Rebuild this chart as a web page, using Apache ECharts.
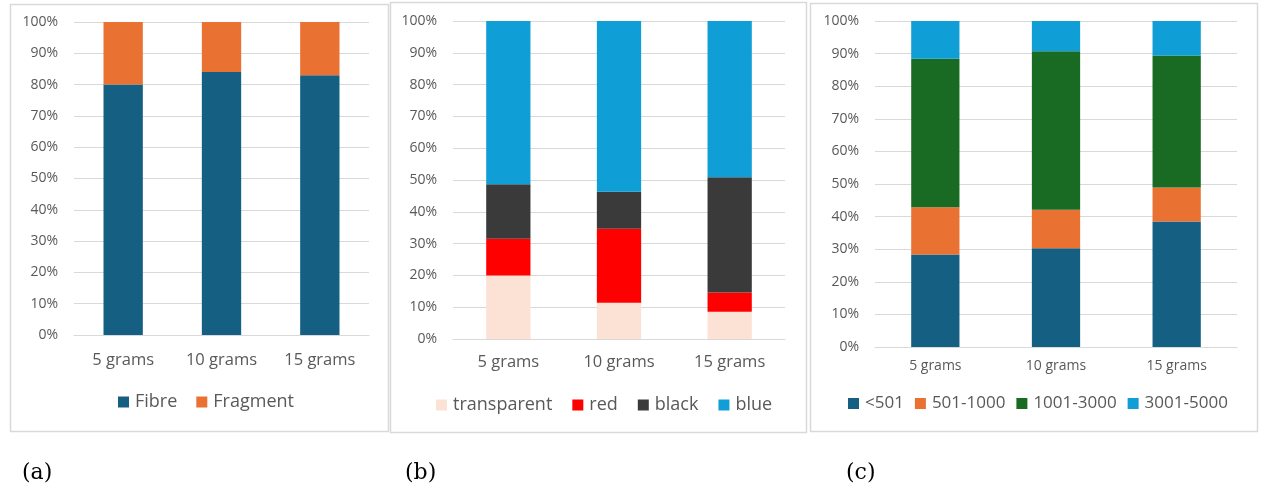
<!DOCTYPE html>
<html>
<head>
<meta charset="utf-8">
<script src="https://cdn.jsdelivr.net/npm/echarts@6/dist/echarts.min.js"></script>
<style>
html,body{margin:0;padding:0;background:#fff;}
#c{width:1282px;height:488px;}
</style>
</head>
<body>
<div id="c"></div>
<script>
var categories = ['5 grams', '10 grams', '15 grams'];
var yTicks = [0, 10, 20, 30, 40, 50, 60, 70, 80, 90, 100];

// (a) shape
var fibre = [80, 84, 83];
var fragment = [20, 16, 17];

// (b) colour
var transparentC = [20, 11.4, 8.6];
var redC = [11.5, 23.3, 6.0];
var blackC = [17.2, 11.6, 36.3];
var blueC = [51.3, 53.7, 49.1];

// (c) size
var s501 = [28.4, 30.3, 38.5];
var s1000 = [14.5, 11.8, 10.4];
var s3000 = [45.5, 48.6, 40.5];
var s5000 = [11.6, 9.3, 10.6];

var panelLabels = ['(a)', '(b)', '(c)'];

var FONT = '"Open Sans", "Noto Sans", sans-serif';
var TXT = '#595959';
var GRID = '#d9d9d9';

var chart = echarts.init(document.getElementById('c'), null, {renderer: 'canvas'});

var grids = [
  {left: 74, top: 22, width: 295, height: 313},
  {left: 453, top: 21, width: 332, height: 318},
  {left: 875, top: 21, width: 362, height: 326}
];
var catFont = [16.5, 16.5, 14];
var catMargin = [17, 15, 12.5];

function xAxis(i) {
  return {
    type: 'category', gridIndex: i, data: categories,
    axisLine: {lineStyle: {color: GRID, width: 1}},
    axisTick: {show: false},
    axisLabel: {color: TXT, fontSize: catFont[i], fontFamily: FONT, margin: catMargin[i]}
  };
}
function yAxis(i) {
  return {
    type: 'value', gridIndex: i, min: yTicks[0], max: yTicks[yTicks.length - 1], interval: yTicks[1] - yTicks[0],
    axisLine: {show: false}, axisTick: {show: false},
    splitLine: {lineStyle: {color: GRID, width: 1}},
    axisLabel: {color: TXT, fontSize: 14, fontFamily: FONT, margin: 16, formatter: '{value}%'}
  };
}
function bar(name, data, color, i) {
  return {
    name: name, type: 'bar', stack: 's' + i, xAxisIndex: i, yAxisIndex: i,
    data: data, barWidth: '40%', itemStyle: {color: color}, emphasis: {disabled: true}
  };
}

var series = [
  bar('Fibre', fibre, '#156082', 0),
  bar('Fragment', fragment, '#e97132', 0),
  bar('transparent', transparentC, '#fbe2d5', 1),
  bar('red', redC, '#ff0000', 1),
  bar('black', blackC, '#3a3a3a', 1),
  bar('blue', blueC, '#0f9ed5', 1),
  bar('<501', s501, '#156082', 2),
  bar('501-1000', s1000, '#e97132', 2),
  bar('1001-3000', s3000, '#196b24', 2),
  bar('3001-5000', s5000, '#0f9ed5', 2)
];

function legend(names, left, top, size, gap) {
  return {
    data: names, left: left, top: top, icon: 'rect', itemWidth: 11, itemHeight: 11,
    itemGap: gap, textStyle: {color: TXT, fontSize: size, fontFamily: FONT, padding: [0, 0, 0, 1]},
    selectedMode: false
  };
}

var borders = [
  [10, 4, 378, 427],
  [390, 2, 416, 430],
  [810, 3, 447, 428]
];
var graphics = [];
borders.forEach(function (b) {
  graphics.push({type: 'rect', shape: {x: b[0] + 0.5, y: b[1] + 0.5, width: b[2], height: b[3]},
    style: {fill: null, stroke: GRID, lineWidth: 1.5}, z: -1});
});
var labX = [22, 405, 846];
panelLabels.forEach(function (t, i) {
  graphics.push({type: 'text', left: labX[i], top: 462,
    style: {text: t, fill: '#000', font: '22px "DejaVu Serif", "Liberation Serif", serif'}});
});

chart.setOption({
  animation: false,
  grid: grids,
  xAxis: [xAxis(0), xAxis(1), xAxis(2)],
  yAxis: [yAxis(0), yAxis(1), yAxis(2)],
  legend: [
    legend(['Fibre', 'Fragment'], 113, 388, 18, 19),
    legend(['transparent', 'red', 'black', 'blue'], 431, 391, 18, 20),
    legend(['<501', '501-1000', '1001-3000', '3001-5000'], 843, 390, 17, 11)
  ],
  series: series,
  graphic: graphics
});
</script>
</body>
</html>
